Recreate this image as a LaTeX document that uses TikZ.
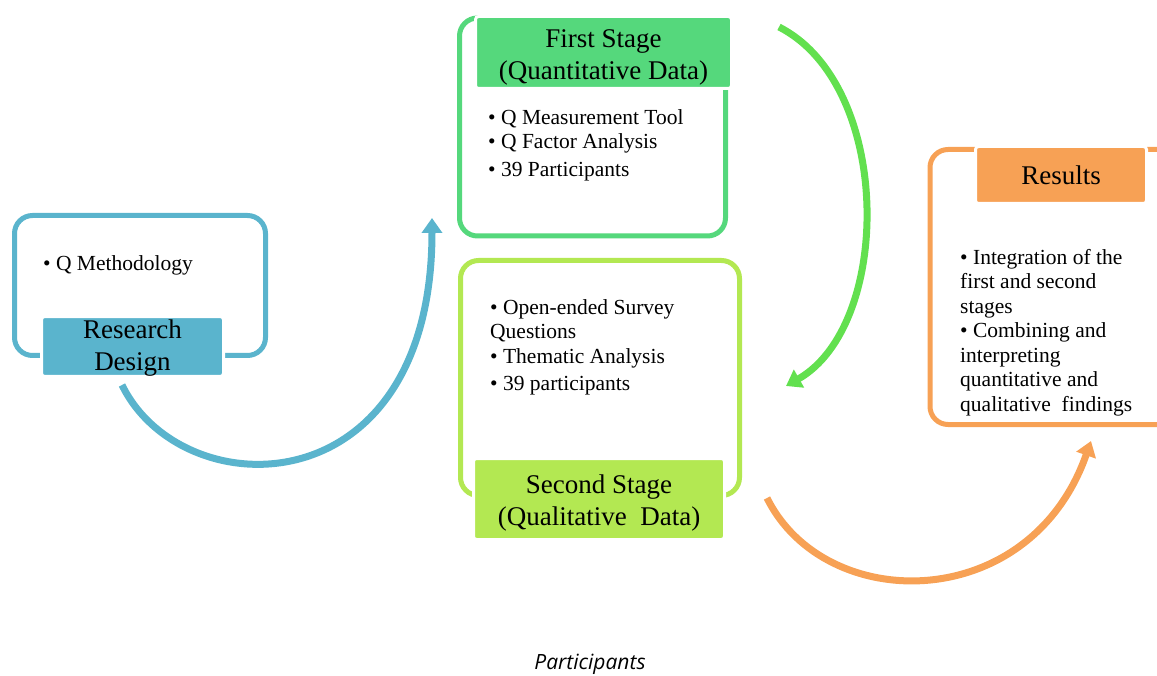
\documentclass[tikz,border=0pt]{standalone}
\usepackage{fontspec}
\setmainfont{Liberation Serif}
\newfontfamily\captionfont{Open Sans}
\usetikzlibrary{arrows.meta}
\definecolor{designblue}{HTML}{5AB4CD}
\definecolor{firstgreen}{HTML}{55D87C}
\definecolor{arrowgreen}{HTML}{62E04F}
\definecolor{secondlime}{HTML}{B3E852}
\definecolor{resultorange}{HTML}{F7A155}
\newcommand\BodyFont{\fontsize{21.5}{24.5}\selectfont}
\newcommand\HeadFont{\fontsize{27}{32}\selectfont}

\begin{document}
\begin{tikzpicture}[x=1pt,y=-1pt,
  outline/.style={rectangle,draw=#1,line width=5pt,rounded corners=18pt,inner sep=0,fill=white},
  head/.style={rectangle,fill=#1,draw=white,line width=3pt,rounded corners=3pt,inner sep=0,align=center,font=\HeadFont},
  items/.style={anchor=north west,inner sep=0,align=left,font=\BodyFont},
  flow/.style={draw=#1,line width=7pt,-{Triangle[width=20pt,length=15pt]}}]
\useasboundingbox (0,0) rectangle (1157,676);
% outer frames
\node[outline=designblue,minimum width=251,minimum height=140] (designbox) at (140,285.5) {};
\node[outline=firstgreen,minimum width=266,minimum height=218] (firstbox) at (592.5,127) {};
\node[outline=secondlime,minimum width=279,minimum height=235] (secondbox) at (600,378) {};
\node[outline=resultorange,minimum width=280,minimum height=275] (resultbox) at (1070,287) {};
% headers
\node[head=designblue,minimum width=182,minimum height=58] (design) at (132.5,346.5) {\rule{0pt}{22pt}Research\\Design};
\node[head=firstgreen,minimum width=256,minimum height=72] (first) at (603.5,52.5) {\rule{0pt}{28pt}First Stage\\(Quantitative Data)};
\node[head=secondlime,minimum width=251,minimum height=81] (second) at (599,499) {\rule{0pt}{26pt}Second Stage\\(Qualitative~ Data)};
\node[head=resultorange,minimum width=171,minimum height=57] (results) at (1061,175) {Results};
% bullet lists
\node[items] (designlist) at (43,255) {• Q Methodology};
\node[items] (firstlist) at (488,109) {• Q Measurement Tool\\• Q Factor Analysis\\[3pt]• 39 Participants};
\node[items] (secondlist) at (490,299) {• Open-ended Survey\\Questions\\• Thematic Analysis\\[3pt]• 39 participants};
\node[items] (resultlist) at (960,249) {• Integration of the\\first and second\\stages\\• Combining and\\interpreting\\quantitative and\\qualitative~ findings};
% arrows
\coordinate (a1) at (122,385);
\coordinate (a2) at (432,218);
\coordinate (b1) at (779,27);
\coordinate (b2) at (786,386);
\coordinate (c1) at (767,498);
\coordinate (c2) at (1091,441);
\draw[flow=designblue] (a1) .. controls (182,508) and (432,510) .. (a2);
\draw[flow=arrowgreen] (b1) .. controls (893,85) and (893,325) .. (b2);
\draw[flow=resultorange] (c1) .. controls (825,615) and (1030,615) .. (c2);
\node[font=\captionfont\itshape\fontsize{21}{24}\selectfont,anchor=base,inner sep=0] (caption) at (590,669) {Participants};
\end{tikzpicture}
\end{document}
